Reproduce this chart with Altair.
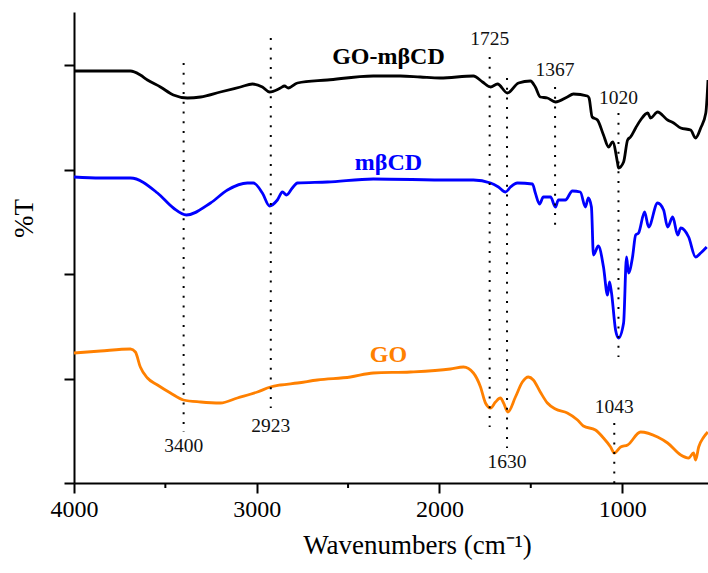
import altair as alt
import pandas as pd

# ---- spectra (wavenumber in cm-1, %T in arbitrary offset units) ----
black_w = [4000, 3691, 3637, 3598, 3527, 3456, 3379, 3307, 3199, 3089, 3023, 2969, 2930, 2870, 2848, 2827,
           2777, 2613, 2362, 2214, 2105, 1996, 1814, 1764, 1720, 1682, 1628, 1567, 1502, 1475, 1448, 1409,
           1365, 1300, 1267, 1190, 1181, 1164, 1135, 1102, 1074, 1052, 1025, 1020, 992, 970, 954, 926, 899,
           860, 844, 806, 751, 718, 679, 625, 598, 570, 542, 530]
black_v = [84.4, 84.4, 83.6, 82.6, 81.2, 79.6, 79.0, 79.2, 80.2, 81.2, 81.8, 81.2, 80.2, 81.0, 81.4, 81.0,
           82.0, 82.6, 83.4, 83.4, 83.2, 83.0, 83.4, 82.2, 81.2, 81.8, 80.0, 82.0, 82.4, 81.2, 79.2, 79.0,
           78.2, 79.2, 79.8, 79.4, 79.0, 75.2, 74.6, 71.6, 69.2, 70.2, 66.0, 65.0, 66.2, 70.6, 71.2, 73.0, 74.6,
           76.0, 75.0, 76.2, 74.6, 74.0, 73.0, 72.6, 71.0, 73.0, 76.0, 82.6]

blue_w = [4000, 3855, 3691, 3543, 3456, 3385, 3253, 3160, 3051, 3018, 2969, 2930, 2887, 2859, 2837, 2805,
          2777, 2613, 2362, 1940, 1814, 1720, 1677, 1638, 1611, 1573, 1491, 1475, 1452, 1431, 1392, 1365,
          1349, 1311, 1272, 1229, 1201, 1185, 1168, 1157, 1130, 1102, 1080, 1069, 1058, 1036, 1020, 992,
          976, 965, 943, 926, 910, 877, 855, 806, 773, 751, 723, 696, 679, 636, 598, 570, 537]
blue_v = [63.2, 63.0, 63.0, 60.0, 57.0, 55.6, 58.0, 60.6, 62.0, 62.0, 60.0, 57.4, 58.6, 60.2, 59.6, 61.0,
          62.0, 62.2, 62.8, 62.6, 62.6, 62.0, 61.2, 60.2, 61.2, 62.0, 61.8, 60.0, 57.8, 59.2, 59.2, 57.2,
          58.6, 58.6, 60.4, 60.2, 57.2, 59.0, 57.2, 47.6, 49.4, 45.2, 39.6, 42.2, 40.0, 32.6, 31.0, 34.0,
          47.2, 44.0, 47.2, 51.6, 52.0, 56.2, 53.2, 58.0, 56.6, 53.2, 55.2, 51.6, 53.0, 51.2, 47.2, 48.0, 49.2]

orange_w = [4000, 3855, 3691, 3664, 3637, 3598, 3543, 3472, 3401, 3307, 3199, 3106, 2996, 2925, 2870, 2777,
            2668, 2487, 2362, 2159, 1940, 1868, 1814, 1775, 1748, 1720, 1693, 1666, 1649, 1625, 1584, 1546,
            1513, 1486, 1448, 1409, 1365, 1300, 1244, 1212, 1146, 1102, 1063, 1043, 1008, 970, 899, 806,
            751, 679, 636, 609, 598, 581, 553, 531]
orange_v = [28.0, 28.4, 28.8, 28.2, 25.2, 23.0, 21.6, 20.0, 18.6, 18.2, 18.0, 19.0, 20.2, 21.2, 21.6, 22.0,
            22.6, 23.2, 24.0, 24.2, 24.8, 25.2, 24.0, 21.2, 18.0, 17.0, 18.2, 19.0, 18.0, 16.2, 19.2, 22.2,
            23.2, 22.6, 20.2, 18.0, 16.8, 16.0, 14.6, 13.4, 12.6, 11.0, 9.2, 8.0, 9.2, 9.6, 12.2, 11.2,
            10.0, 7.6, 7.0, 8.0, 6.6, 9.2, 11.2, 12.2]

series_names = ["GO-mβCD", "mβCD", "GO"]
series_colors = ["#000000", "#0000ff", "#ff8000"]
series_label_w = [2279, 2279, 2279]
series_label_v = [87.2, 66.0, 27.6]

# ---- marked peaks ----
peak_w = [3400, 2923, 1725, 1630, 1367, 1020, 1043]
peak_top = [86.0, 91.0, 87.2, 83.0, 81.2, 76.0, 14.0]
peak_bottom = [12.2, 17.0, 13.2, 9.0, 52.2, 27.2, 2.0]
peak_label_v = [9.4, 13.4, 90.8, 6.2, 84.6, 79.0, 17.2]

# ---- axes ----
x_major = [4000, 3000, 2000, 1000]
x_minor = [3500, 2500, 1500]
y_ticks = [2.0, 22.8, 43.8, 64.6, 85.6]
x_domain = [530, 4000]
y_domain = [2.0, 96.2]

FONT = "Liberation Serif"

rows = []
for name, ws, vs in zip(series_names, [black_w, blue_w, orange_w], [black_v, blue_v, orange_v]):
    for w, v in zip(ws, vs):
        rows.append({"w": w, "v": v, "series": name})
spectra = pd.DataFrame(rows)

peaks = pd.DataFrame({"w": peak_w, "top": peak_top, "bottom": peak_bottom,
                      "lv": peak_label_v, "label": [str(p) for p in peak_w]})
labels = pd.DataFrame({"w": series_label_w, "v": series_label_v, "series": series_names})
minor = pd.DataFrame({"w": x_minor, "v": [y_domain[0]] * len(x_minor), "v2": [1.0] * len(x_minor)})

xs = alt.Scale(domain=x_domain, reverse=True, nice=False, zero=False)
ys = alt.Scale(domain=y_domain, nice=False, zero=False)

x_axis = alt.Axis(values=x_major, format="d", tickSize=10, labelPadding=4, labelFontSize=24,
                  title="Wavenumbers (cm⁻¹)", titleFontSize=27, titleX=343, titleY=62,
                  titleAlign="center", titleBaseline="middle", labelFlush=False)
y_axis = alt.Axis(values=y_ticks, labels=False, tickSize=10, title="%T", titleFontSize=27,
                  titleAngle=270, titleX=-50, titleY=206, titleAlign="center", titleBaseline="middle")

X = alt.X("w:Q", scale=xs, axis=x_axis)
Y = alt.Y("v:Q", scale=ys, axis=y_axis)
color = alt.Color("series:N", scale=alt.Scale(domain=series_names, range=series_colors), legend=None)

lines = alt.Chart(spectra).mark_line(strokeWidth=2.8, strokeJoin="round", interpolate="monotone").encode(
    x=X, y=Y, color=color, detail="series:N")

rules = alt.Chart(peaks).mark_rule(color="black", strokeWidth=2, strokeDash=[2, 7.7]).encode(
    x=X, y=alt.Y("top:Q", scale=ys, axis=y_axis), y2="bottom:Q")

minor_ticks = alt.Chart(minor).mark_rule(color="black", strokeWidth=2).encode(
    x=X, y=Y, y2="v2:Q")

peak_text = alt.Chart(peaks).mark_text(font=FONT, fontSize=19.5, color="#111111",
                                       baseline="middle", align="center").encode(
    x=X, y=alt.Y("lv:Q", scale=ys, axis=y_axis), text="label:N")

series_text = alt.Chart(labels).mark_text(font=FONT, fontSize=24, fontWeight="bold",
                                          baseline="middle", align="center").encode(
    x=X, y=Y, text="series:N", color=color)

chart = alt.layer(lines, rules, minor_ticks, peak_text, series_text).properties(
    width=634, height=471,
    padding={"left": 74, "top": 12, "right": 0, "bottom": 90},
    autosize=alt.AutoSizeParams(type="none"),
    background="white",
).configure_view(stroke=None).configure_axis(
    labelFont=FONT, titleFont=FONT, titleFontWeight="normal", labelColor="black", titleColor="black",
    domainColor="black", domainWidth=2, tickColor="black", tickWidth=2, grid=False,
)

chart.save("out.html", embed_options={"renderer": "svg", "actions": False})
